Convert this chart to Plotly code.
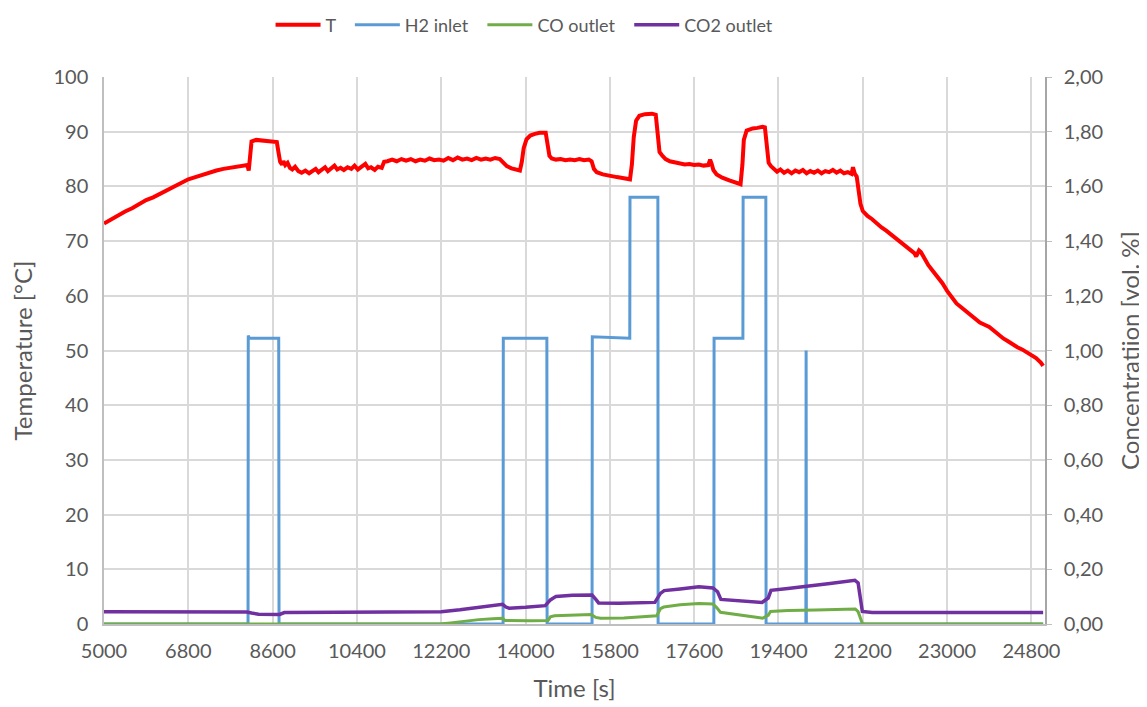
import plotly.graph_objects as go

# Temperature (left axis)
t_time = [5000, 5150, 5300, 5450, 5600, 5750, 5900, 6050, 6200, 6350, 6500, 6650, 6800, 6950, 7100,
          7250, 7400, 7550, 7700, 7850, 8000, 8060, 8090, 8120, 8150, 8250, 8400, 8550, 8690, 8730,
          8760, 8800, 8830, 8870, 8920, 8970, 9020, 9080, 9150, 9220, 9300, 9380, 9450, 9520, 9580,
          9650, 9720, 9780, 9850, 9920, 9980, 10050, 10120, 10200, 10280, 10350, 10420, 10500, 10580,
          10640, 10700, 10780, 10850, 10930, 10980, 11050, 11150, 11250, 11350, 11450, 11550, 11650,
          11750, 11850, 11950, 12050, 12150, 12250, 12350, 12450, 12550, 12650, 12750, 12850, 12950,
          13050, 13150, 13250, 13350, 13450, 13530, 13600, 13700, 13800, 13880, 13920, 13960, 14020,
          14100, 14200, 14300, 14430, 14470, 14510, 14560, 14650, 14750, 14850, 14950, 15050, 15150,
          15250, 15350, 15410, 15460, 15520, 15650, 15800, 15950, 16100, 16230, 16270, 16310, 16360,
          16430, 16550, 16700, 16780, 16820, 16860, 16920, 16990, 17080, 17180, 17280, 17400, 17500,
          17600, 17700, 17800, 17900, 17940, 17970, 18010, 18080, 18200, 18350, 18500, 18590, 18630,
          18660, 18720, 18850, 18950, 19060, 19110, 19150, 19190, 19240, 19300, 19370, 19440, 19520,
          19600, 19680, 19760, 19840, 19920, 20000, 20080, 20160, 20240, 20320, 20400, 20480, 20560,
          20640, 20720, 20800, 20880, 20960, 20990, 21030, 21070, 21110, 21150, 21200, 21300, 21400,
          21500, 21600, 21700, 21800, 21900, 22000, 22100, 22200, 22300, 22340, 22400, 22440, 22500,
          22600, 22700, 22800, 22900, 23000, 23100, 23200, 23300, 23400, 23500, 23600, 23700, 23800,
          23900, 24000, 24100, 24200, 24300, 24400, 24500, 24600, 24700, 24800, 24900, 25000, 25050]
t_temp = [73.2, 74.0, 74.7, 75.4, 76.0, 76.8, 77.5, 78.0, 78.7, 79.4, 80.0, 80.6, 81.3, 81.7, 82.1,
          82.6, 82.9, 83.2, 83.4, 83.6, 83.7, 83.9, 82.9, 86.5, 88.2, 88.5, 88.4, 88.3, 88.1, 86.0,
          84.5, 84.0, 84.6, 83.9, 84.3, 83.4, 83.1, 83.6, 82.8, 82.5, 82.9, 82.4, 82.7, 83.2, 82.6,
          83.0, 83.5, 82.8, 83.4, 83.8, 83.1, 83.4, 83.0, 83.5, 83.2, 83.8, 83.1, 83.6, 84.1,
          83.3, 83.5, 83.0, 83.6, 83.4, 84.5, 84.6, 84.9, 84.6, 85.0, 84.7, 85.0, 84.6,
          84.9, 84.7, 85.1, 84.8, 84.9, 84.7, 85.2, 84.8, 85.3, 84.9, 85.1, 84.8, 85.2,
          84.9, 85.1, 84.9, 85.2, 85.0, 84.4, 83.7, 83.3, 83.1, 82.9, 84.5, 87.0, 88.6,
          89.3, 89.6, 89.8, 89.8, 87.5, 85.6, 85.1, 84.9, 85.0, 84.8, 84.9, 84.8, 85.0,
          84.8, 84.9, 84.6, 83.2, 82.6, 82.2, 81.9, 81.7, 81.5, 81.3, 84.0, 89.0, 92.0,
          92.9, 93.2, 93.3, 93.1, 89.0, 86.3, 85.6, 85.0, 84.6, 84.4, 84.2, 84.0, 84.1,
          83.9, 84.0, 83.8, 83.9, 84.9, 84.2, 83.0, 82.2, 81.6, 81.1, 80.6, 80.4, 84.0,
          88.5, 90.2, 90.6, 90.7, 90.9, 90.8, 87.0, 84.3, 83.7, 83.2, 82.7, 83.1, 82.5,
          82.9, 82.4, 82.9, 82.6, 83.0, 82.4, 82.8, 82.5, 82.9, 82.4, 82.8, 82.6, 83.0,
          82.5, 82.9, 82.4, 82.6, 82.3, 83.5, 82.3, 81.8, 79.5, 76.8, 75.5, 74.6, 74.0,
          73.2, 72.5, 71.9, 71.2, 70.7, 70.0, 69.3, 68.6, 67.8, 67.2, 68.3, 68.0, 67.0,
          65.6, 64.5, 63.5, 62.3, 60.9, 59.6, 58.6, 57.9, 57.2, 56.4, 55.7, 55.1, 54.7,
          54.3, 53.6, 52.8, 52.2, 51.7, 51.1, 50.6, 50.2, 49.7, 49.3, 48.6, 47.8, 47.2]

# H2 inlet (right axis, vol. %)
h2_time = [5000, 8075, 8080, 8100, 8730, 8737, 13520, 13525, 14455, 14460, 15420, 15425, 16225,
           16230, 16825, 16830, 18020, 18025, 18640, 18645, 19130, 19135, 19985, 19990, 19995, 25050]
h2_conc = [0, 0, 1.055, 1.045, 1.045, 0, 0, 1.045, 1.045, 0, 0, 1.05, 1.045,
           1.56, 1.56, 0, 0, 1.045, 1.045, 1.56, 1.56, 0, 0, 1.0, 0, 0]

# CO outlet (right axis, vol. %)
co_time = [5000, 12180, 12400, 12700, 13000, 13300, 13510, 13560, 13800, 14100, 14480, 14530, 14620,
           15000, 15400, 15500, 15600, 16100, 16600, 16800, 16880, 16950, 17300, 17700, 18000, 18080,
           18160, 18500, 19000, 19060, 19180, 19230, 19600, 20200, 20700, 21040, 21100, 21190, 21250, 25050]
co_conc = [0, 0, 0.004, 0.01, 0.016, 0.019, 0.021, 0.013, 0.012, 0.012, 0.013, 0.026, 0.030,
           0.033, 0.035, 0.024, 0.021, 0.022, 0.026, 0.030, 0.056, 0.062, 0.070, 0.075, 0.073, 0.060,
           0.043, 0.036, 0.023, 0.021, 0.032, 0.046, 0.049, 0.051, 0.053, 0.055, 0.045, 0.002, 0, 0]

# CO2 outlet (right axis, vol. %)
co2_time = [5000, 7000, 8050, 8150, 8300, 8750, 8850, 10000, 12000, 12200, 12600, 13000, 13300, 13510,
            13580, 13650, 14000, 14420, 14530, 14650, 15000, 15420, 15500, 15560, 16000, 16500, 16760,
            16880, 16960, 17300, 17700, 18000, 18100, 18170, 18600, 19050, 19180, 19240, 19600, 20000,
            20500, 21030, 21100, 21190, 21400, 25050]
co2_conc = [0.045, 0.045, 0.044, 0.040, 0.036, 0.035, 0.042, 0.043, 0.043, 0.045, 0.052, 0.062, 0.068, 0.072,
            0.062, 0.058, 0.061, 0.067, 0.088, 0.101, 0.105, 0.106, 0.090, 0.077, 0.076, 0.077, 0.079,
            0.112, 0.122, 0.128, 0.136, 0.132, 0.118, 0.090, 0.084, 0.079, 0.095, 0.123, 0.130, 0.137,
            0.148, 0.160, 0.150, 0.046, 0.042, 0.042]

x_ticks = [5000, 6800, 8600, 10400, 12200, 14000, 15800, 17600, 19400, 21200, 23000, 24800]
y2_ticks = [0, 0.2, 0.4, 0.6, 0.8, 1.0, 1.2, 1.4, 1.6, 1.8, 2.0]
y2_labels = ["0,00", "0,20", "0,40", "0,60", "0,80", "1,00", "1,20", "1,40", "1,60", "1,80", "2,00"]

font = "Lato, Open Sans, sans-serif"
grey = "#595959"
pad = "\u00a0"  # non-breaking space, widens the gaps between legend entries

fig = go.Figure()
fig.add_trace(go.Scatter(x=t_time, y=t_temp, name="T" + pad * 2, mode="lines",
                         line=dict(color="#ff0000", width=4)))
fig.add_trace(go.Scatter(x=h2_time, y=h2_conc, name="H2 inlet" + pad * 2, mode="lines", yaxis="y2",
                         line=dict(color="#5b9bd5", width=3)))
fig.add_trace(go.Scatter(x=co_time, y=co_conc, name="CO outlet" + pad * 2, mode="lines", yaxis="y2",
                         line=dict(color="#70ad47", width=3)))
fig.add_trace(go.Scatter(x=co2_time, y=co2_conc, name="CO2 outlet", mode="lines", yaxis="y2",
                         line=dict(color="#7030a0", width=3.5)))

# page body adds an 8 px offset, so the figure is made 8 px smaller
fig.update_layout(
    width=1139, height=699,
    margin=dict(l=96, r=102, t=69, b=83, autoexpand=False),
    paper_bgcolor="white", plot_bgcolor="white",
    font=dict(family=font, size=20, color=grey),
    showlegend=True,
    legend=dict(orientation="h", x=0.177, xanchor="left", y=1.095, yanchor="middle",
                font=dict(size=18, color=grey), tracegroupgap=0, itemwidth=45),
    xaxis=dict(range=[5000, 25090], tickvals=x_ticks, tickformat="d", automargin=False,
               showgrid=True, gridcolor="#d9d9d9", gridwidth=1.5,
               showline=True, linecolor="#bfbfbf", linewidth=1.5,
               zeroline=False, ticks="", ticklabelstandoff=8,
               title=dict(text="Time [s]", standoff=19)),
    yaxis=dict(range=[0, 100], dtick=10, showgrid=True, gridcolor="#d9d9d9", gridwidth=1.5,
               showline=True, linecolor="#bfbfbf", linewidth=1.5, zeroline=False,
               automargin=False, ticklabelstandoff=10,
               title=dict(text="Temperature [°C]", standoff=14)),
    yaxis2=dict(range=[0, 2], overlaying="y", side="right", tickvals=y2_ticks, ticktext=y2_labels,
                showgrid=False, showline=True, linecolor="#a6a6a6", linewidth=1.5, zeroline=False,
                ticks="outside", ticklen=5, tickcolor="#bfbfbf", automargin=False,
                ticklabelstandoff=8,
                title=dict(text="Concentratiion [vol. %]", standoff=20)),
)

fig.write_html("out.html")
